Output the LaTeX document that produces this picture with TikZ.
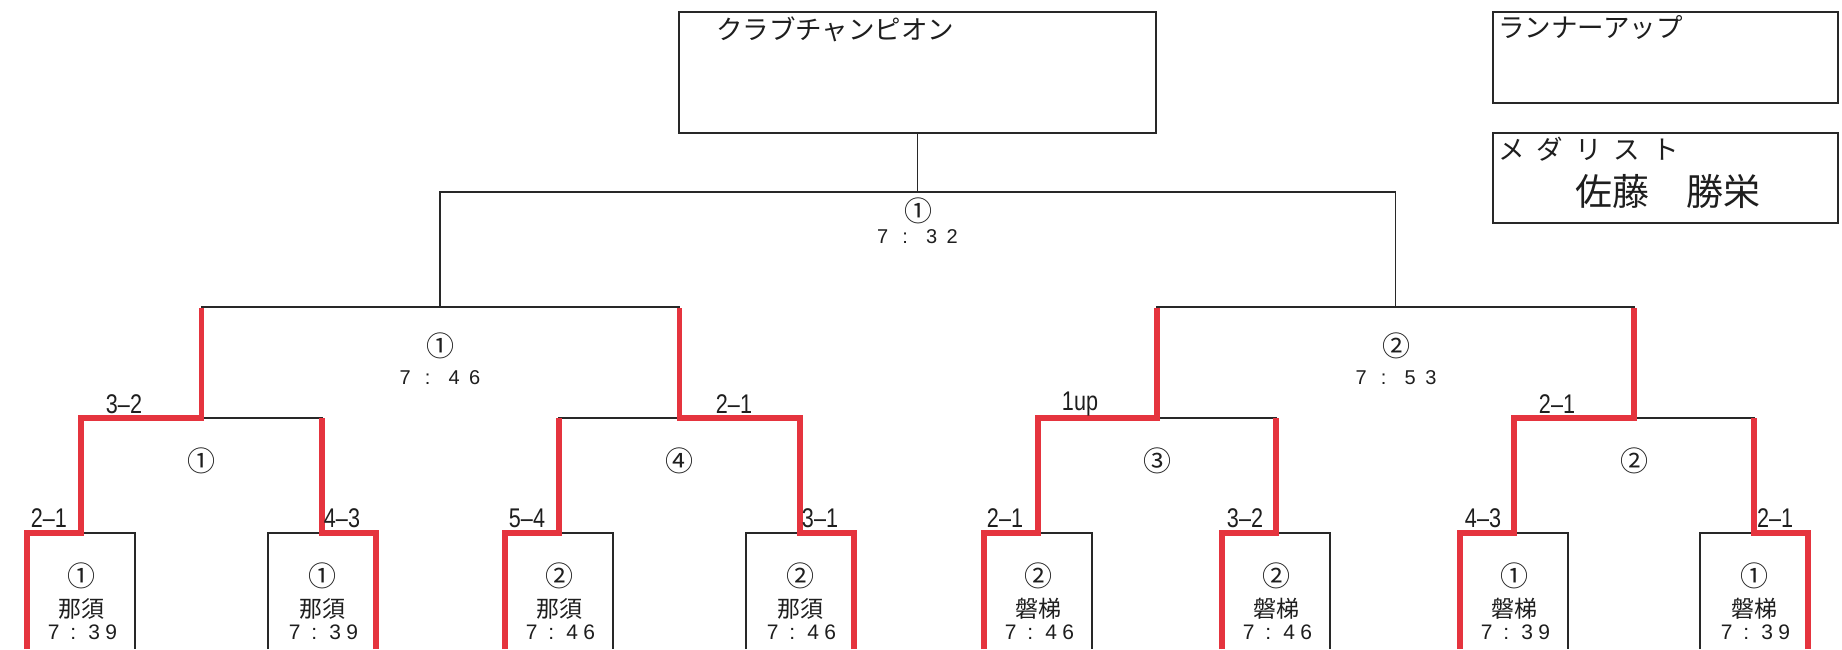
\documentclass[tikz,border=0pt]{standalone}
\usepackage{fontspec}
\setmainfont{Noto Sans CJK JP}
\newfontfamily\scorefont[FakeStretch=0.8]{Liberation Sans}
\newfontfamily\timefont{Liberation Sans}
\definecolor{bracketred}{RGB}{229,52,62}
\definecolor{linegray}{RGB}{40,40,40}
\definecolor{txtgray}{RGB}{30,30,30}
\newcommand\leaftime[3]{#1\hspace{10.75pt}:\hspace{12.25pt}#2\hspace{5.3pt}#3}
\newcommand\midtime[3]{#1\hspace{14.2pt}:\hspace{18.2pt}#2\hspace{9.4pt}#3}
\newcommand\leafbox[5]{% #1 name, #2 left x, #3 circle, #4 place, #5 time
  \coordinate (#1) at ({#2+54},533);
  \draw[blk] ({#2},649) -- ({#2},533) -- ({#2+108},533) -- ({#2+108},649);
  \node[circtxt] (#1c) at ({#2+54},576) {#3};
  \node[placetxt] (#1p) at ({#2+54},609) {#4};
  \node[timetxt] (#1t) at ({#2+55.5},632.5) {#5};
}
\begin{document}
\begin{tikzpicture}[x=1pt,y=-1pt,
  blk/.style={line width=1.8pt, draw=linegray},
  redp/.style={line width=5.5pt, draw=bracketred, line join=miter},
  frame/.style={line width=2pt, draw=linegray, inner sep=0pt, outer sep=0pt},
  circtxt/.style={inner sep=0pt, text=txtgray, font=\fontsize{28}{30}\selectfont},
  placetxt/.style={inner sep=0pt, text=txtgray, font=\fontsize{23}{24}\selectfont},
  timetxt/.style={inner sep=0pt, text=txtgray, font=\timefont\fontsize{21}{22}\selectfont},
  midtxt/.style={inner sep=0pt, text=txtgray, font=\timefont\fontsize{20}{21}\selectfont},
  scoretxt/.style={inner sep=0pt, text=txtgray, font=\scorefont\fontsize{27}{28}\selectfont},
  titletxt/.style={inner sep=0pt, text=txtgray, anchor=west, font=\fontsize{26.5}{28}\selectfont},
  nametxt/.style={inner sep=0pt, text=txtgray, font=\fontsize{37}{40}\selectfont}
]
\fill[white] (0,0) rectangle (1842,649);
\useasboundingbox (0,0) rectangle (1842,649);

% top boxes
\node[frame, anchor=north west, minimum width=477pt, minimum height=121pt] (champ) at (679,12) {};
\node[titletxt] (champT) at (716,29) {クラブチャンピオン};
\node[frame, anchor=north west, minimum width=345pt, minimum height=91pt] (runner) at (1493,12) {};
\node[titletxt] (runnerT) at (1498,27) {ランナーアップ};
\node[frame, anchor=north west, minimum width=345pt, minimum height=90pt] (medal) at (1493,133) {};
\node[titletxt] (medalT) at (1498,149) {メ\hspace{12pt}ダ\hspace{12pt}リ\hspace{12pt}ス\hspace{12pt}ト};
\node[nametxt] (medalN) at (1668,191) {佐藤　勝栄};

% joints
\coordinate (f) at (917.5,192);
\coordinate (s1) at (440,307);
\coordinate (s2) at (1395.5,307);
\coordinate (q1) at (201.5,418);
\coordinate (q2) at (679.5,418);
\coordinate (q3) at (1157,418);
\coordinate (q4) at (1634,418);

% leaf boxes
\leafbox{l1}{27}{①}{那須}{\leaftime{7}{3}{9}}
\leafbox{l2}{268}{①}{那須}{\leaftime{7}{3}{9}}
\leafbox{l3}{505}{②}{那須}{\leaftime{7}{4}{6}}
\leafbox{l4}{746}{②}{那須}{\leaftime{7}{4}{6}}
\leafbox{l5}{984}{②}{磐梯}{\leaftime{7}{4}{6}}
\leafbox{l6}{1222}{②}{磐梯}{\leaftime{7}{4}{6}}
\leafbox{l7}{1460}{①}{磐梯}{\leaftime{7}{3}{9}}
\leafbox{l8}{1700}{①}{磐梯}{\leaftime{7}{3}{9}}

% black bracket
\draw[blk] (l1) |- (q1) -| (l2);
\draw[blk] (l3) |- (q2) -| (l4);
\draw[blk] (l5) |- (q3) -| (l6);
\draw[blk] (l7) |- (q4) -| (l8);
\draw[blk] (q1) |- (s1) -| (q2);
\draw[blk] (q3) |- (s2) -| (q4);
\draw[blk] (s1) |- (f) -| (s2);
\draw[blk] (f) -- (champ.south);

% red paths
\draw[redp] (27,649) -- (27,533) -- (l1) -- (l1 |- q1) -- (q1) -- ([yshift=-1pt]q1 |- s1);
\draw[redp] (376,649) -- (376,533) -- (l2) -- (l2 |- q1);
\draw[redp] (505,649) -- (505,533) -- (l3) -- (l3 |- q2);
\draw[redp] (854,649) -- (854,533) -- (l4) -- (l4 |- q2) -- (q2) -- ([yshift=-1pt]q2 |- s1);
\draw[redp] (984,649) -- (984,533) -- (l5) -- (l5 |- q3) -- (q3) -- ([yshift=-1pt]q3 |- s2);
\draw[redp] (1222,649) -- (1222,533) -- (l6) -- (l6 |- q3);
\draw[redp] (1460,649) -- (1460,533) -- (l7) -- (l7 |- q4) -- (q4) -- ([yshift=-1pt]q4 |- s2);
\draw[redp] (1808,649) -- (1808,533) -- (l8) -- (l8 |- q4);

% match labels
\node[circtxt] (fC) at (918,211) {①};
\node[midtxt] (fT) at (917.5,237) {\midtime{7}{3}{2}};
\node[circtxt] (s1C) at (440,346) {①};
\node[midtxt] (s1T) at (440,378) {\midtime{7}{4}{6}};
\node[circtxt] (s2C) at (1396,346) {②};
\node[midtxt] (s2T) at (1396,378) {\midtime{7}{5}{3}};
\node[circtxt] (q1C) at (201,461) {①};
\node[circtxt] (q2C) at (679,461) {④};
\node[circtxt] (q3C) at (1157,461) {③};
\node[circtxt] (q4C) at (1634,461) {②};

% scores
\node[scoretxt] (sq1) at (124,404) {3–2};
\node[scoretxt] (sq2) at (734,404) {2–1};
\node[scoretxt] (sq3) at (1080,404) {1up};
\node[scoretxt] (sq4) at (1557,404) {2–1};
\node[scoretxt] (sl1) at (49,518) {2–1};
\node[scoretxt] (sl2) at (342,518) {4–3};
\node[scoretxt] (sl3) at (527,518) {5–4};
\node[scoretxt] (sl4) at (820,518) {3–1};
\node[scoretxt] (sl5) at (1005,518) {2–1};
\node[scoretxt] (sl6) at (1245,518) {3–2};
\node[scoretxt] (sl7) at (1483,518) {4–3};
\node[scoretxt] (sl8) at (1775,518) {2–1};
\end{tikzpicture}
\end{document}
